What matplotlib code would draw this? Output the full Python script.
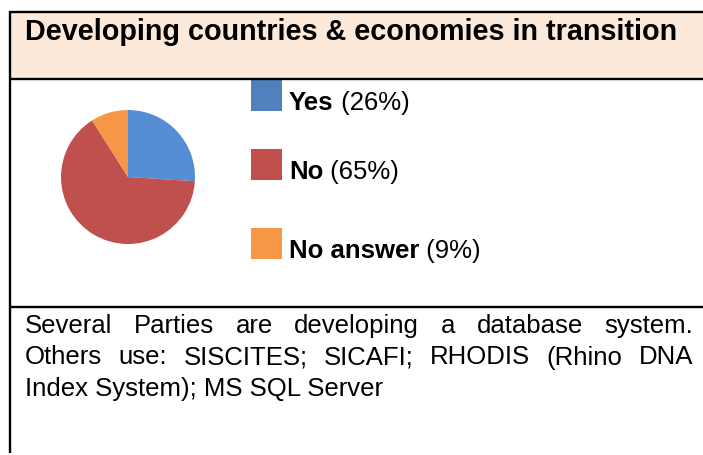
import matplotlib
matplotlib.use("Agg")
import matplotlib.pyplot as plt
from matplotlib.patches import Rectangle

# survey answers
labels = ["Yes", "No", "No answer"]
shares = [26, 65, 9]
pie_colors = ["#558ED5", "#C0504D", "#F79646"]
key_colors = ["#4F81BD", "#C0504D", "#F79646"]

title = "Developing countries & economies in transition"
note_lines = [
    "Several Parties are developing a database system.",
    "Others use: SISCITES; SICAFI; RHODIS (Rhino DNA",
    "Index System); MS SQL Server",
]

plt.rcParams["font.family"] = ["Liberation Sans", "DejaVu Sans"]

W, H = 703, 455
fig = plt.figure(figsize=(W / 100, H / 100), dpi=100)
ax = fig.add_axes([0, 0, 1, 1])
ax.set_xlim(0, W)
ax.set_ylim(H, 0)
ax.axis("off")

# table frame
ax.add_patch(Rectangle((10, 12), W - 10, 67, facecolor="#FDE9D9", edgecolor="none"))
ax.plot([10, W], [12, 12], color="black", lw=1.7, solid_capstyle="butt")
ax.plot([10, W], [79, 79], color="black", lw=1.7, solid_capstyle="butt")
ax.plot([10, W], [307, 307], color="black", lw=1.7, solid_capstyle="butt")
ax.plot([10, 10], [11, 453], color="black", lw=1.7, solid_capstyle="butt")

ax.text(25, 40, title, fontsize=20.7, fontweight="bold", va="baseline", ha="left")

# pie
cx, cy, r = 128, 177, 67
pax = fig.add_axes([(cx - r) / W, 1 - (cy + r) / H, 2 * r / W, 2 * r / H])
pax.pie(shares, colors=pie_colors, startangle=90, counterclock=False,
        wedgeprops=dict(linewidth=0))
pax.set_aspect("equal")
pax.set_xlim(-1, 1)
pax.set_ylim(-1, 1)

renderer = fig.canvas.get_renderer()

def text_width(t):
    return t.get_window_extent(renderer).width

# legend
key_tops = [80, 149, 228]
for lab, val, col, top in zip(labels, shares, key_colors, key_tops):
    ax.add_patch(Rectangle((251, top), 31, 31, facecolor=col, edgecolor="none"))
    base = top + 30
    b = ax.text(289, base, lab, fontsize=18.5, fontweight="bold", va="baseline")
    ax.text(289 + text_width(b), base, " (%d%%)" % val, fontsize=18.5, va="baseline")

# justified note text
left, right = 25, 693
baselines = [333, 364.5, 396]
for i, (line, y) in enumerate(zip(note_lines, baselines)):
    if i == len(note_lines) - 1:
        ax.text(left, y, line, fontsize=18.5, va="baseline")
        continue
    words = line.split(" ")
    items = [ax.text(0, y, w, fontsize=18.5, va="baseline") for w in words]
    widths = [text_width(t) for t in items]
    gap = (right - left - sum(widths)) / (len(words) - 1)
    x = left
    for t, w in zip(items, widths):
        t.set_x(x)
        x += w + gap

fig.savefig("out.png", dpi=100)
